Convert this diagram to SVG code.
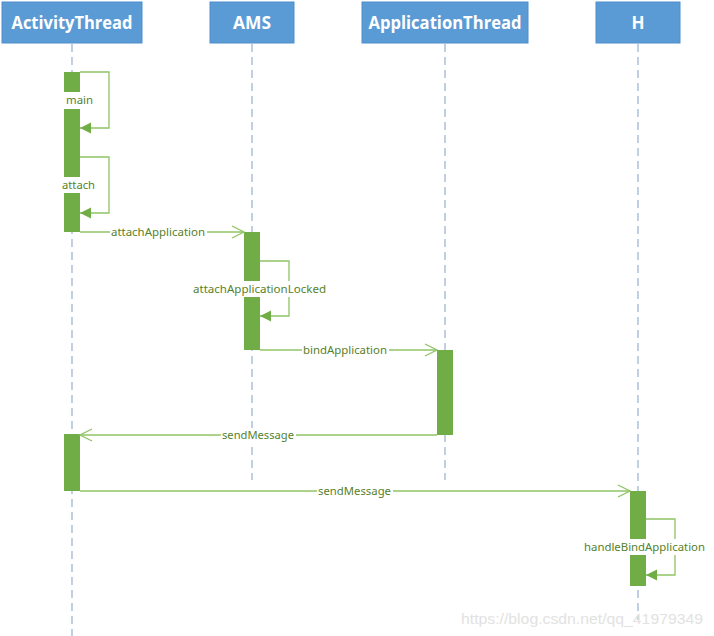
<svg xmlns="http://www.w3.org/2000/svg" width="714" height="636" viewBox="0 0 714 636">
<defs>
<style>
.hdr{fill:#5b9bd5;stroke:#4f8ecb;stroke-width:1}
.hdrt{font-family:"Open Sans","Noto Sans",sans-serif;font-weight:bold;font-size:17px;fill:#ffffff;text-anchor:middle}
.life{stroke:#9fb5d1;stroke-width:1.3;stroke-dasharray:8,5;fill:none}
.bar{fill:#70ad47}
.msg{stroke:#8fc466;stroke-width:1.3;fill:none}
.lbl{font-family:"Noto Sans","Open Sans",sans-serif;font-size:11px;fill:#56822b;text-anchor:middle}
.bg{fill:#ffffff}
.wm{font-family:"Liberation Sans",Arial,sans-serif;font-size:15px;fill:#e2e2e2}
</style>
<marker id="open" markerWidth="14" markerHeight="14" refX="13" refY="7" orient="auto" markerUnits="userSpaceOnUse">
<path d="M1,1 L13,7 L1,13" fill="none" stroke="#8fc466" stroke-width="1.3"/>
</marker>
<marker id="filled" markerWidth="12" markerHeight="12" refX="11" refY="6" orient="auto" markerUnits="userSpaceOnUse">
<path d="M0,0.5 L11,6 L0,11.5 Z" fill="#70ad47"/>
</marker>
</defs>
<rect width="714" height="636" fill="#ffffff"/>

<g id="lifelines">
<line class="life" x1="72" y1="44" x2="72" y2="636"/>
<line class="life" x1="252" y1="44" x2="252" y2="480"/>
<line class="life" x1="445" y1="44" x2="445" y2="480"/>
<line class="life" x1="638" y1="44" x2="638" y2="620"/>
</g>

<g id="ActivityThread">
<rect class="hdr" x="2" y="2" width="140" height="41"/>
<text class="hdrt" x="72" y="29" textLength="121" lengthAdjust="spacingAndGlyphs">ActivityThread</text>
<rect class="bar" x="64" y="72" width="16" height="160"/>
<rect class="bar" x="64" y="434" width="16" height="57"/>
</g>

<g id="AMS">
<rect class="hdr" x="210" y="2" width="84" height="41"/>
<text class="hdrt" x="252" y="29" textLength="38" lengthAdjust="spacingAndGlyphs">AMS</text>
<rect class="bar" x="244" y="232" width="16" height="118"/>
</g>

<g id="ApplicationThread">
<rect class="hdr" x="362" y="2" width="166" height="41"/>
<text class="hdrt" x="445" y="29" textLength="153" lengthAdjust="spacingAndGlyphs">ApplicationThread</text>
<rect class="bar" x="437" y="350" width="16" height="85"/>
</g>

<g id="H">
<rect class="hdr" x="596" y="2" width="84" height="41"/>
<text class="hdrt" x="638" y="29">H</text>
<rect class="bar" x="630" y="491" width="16" height="95"/>
</g>

<g id="connectors">
<polyline class="msg" points="80,72 109,72 109,128 80,128" marker-end="url(#filled)"/>
<rect class="bg" x="64" y="92" width="31" height="17"/>
<text class="lbl" x="79.5" y="104" textLength="27" lengthAdjust="spacingAndGlyphs">main</text>

<polyline class="msg" points="80,157 109,157 109,213 80,213" marker-end="url(#filled)"/>
<rect class="bg" x="61" y="177" width="36" height="16"/>
<text class="lbl" x="78.5" y="189" textLength="33" lengthAdjust="spacingAndGlyphs">attach</text>

<line class="msg" x1="80" y1="232" x2="244" y2="232" marker-end="url(#open)"/>
<rect class="bg" x="110" y="225" width="97" height="14"/>
<text class="lbl" x="158" y="236" textLength="94" lengthAdjust="spacingAndGlyphs">attachApplication</text>

<polyline class="msg" points="260,261 289,261 289,316 260,316" marker-end="url(#filled)"/>
<rect class="bg" x="192" y="281" width="136" height="16"/>
<text class="lbl" x="259.5" y="293" textLength="133" lengthAdjust="spacingAndGlyphs">attachApplicationLocked</text>

<line class="msg" x1="260" y1="350" x2="437" y2="350" marker-end="url(#open)"/>
<rect class="bg" x="302" y="343" width="87" height="14"/>
<text class="lbl" x="345" y="354" textLength="84" lengthAdjust="spacingAndGlyphs">bindApplication</text>

<line class="msg" x1="437" y1="435" x2="80" y2="435" marker-end="url(#open)"/>
<rect class="bg" x="221" y="428" width="75" height="14"/>
<text class="lbl" x="258" y="439" textLength="72" lengthAdjust="spacingAndGlyphs">sendMessage</text>

<line class="msg" x1="80" y1="491" x2="630" y2="491" marker-end="url(#open)"/>
<rect class="bg" x="317" y="484" width="76" height="14"/>
<text class="lbl" x="354.5" y="495" textLength="73" lengthAdjust="spacingAndGlyphs">sendMessage</text>

<polyline class="msg" points="646,519 675,519 675,575 646,575" marker-end="url(#filled)"/>
<rect class="bg" x="583" y="539" width="124" height="16"/>
<text class="lbl" x="644.5" y="551" textLength="121" lengthAdjust="spacingAndGlyphs">handleBindApplication</text>
</g>

<text class="wm" x="461" y="624" textLength="242" lengthAdjust="spacingAndGlyphs">https://blog.csdn.net/qq_41979349</text>
</svg>
